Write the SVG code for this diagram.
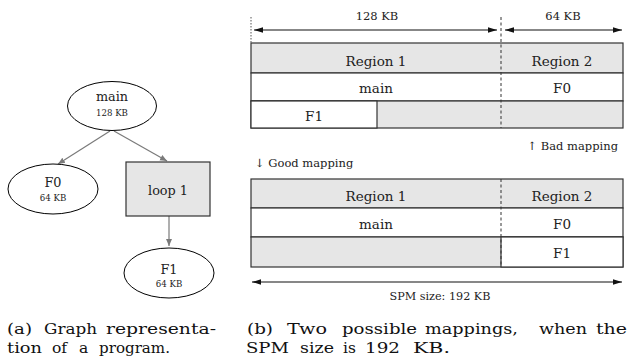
<svg xmlns="http://www.w3.org/2000/svg" width="627" height="364" viewBox="0 0 627 364">
<style>
.t{font-family:"DejaVu Serif","Liberation Serif",serif;fill:#222;text-anchor:middle}
.node{fill:#fff;stroke:#000;stroke-width:1}
.edge{stroke:#7a7a7a;stroke-width:1.2;fill:none}
.cell{stroke:#333;stroke-width:1.2}
.g{fill:#e6e6e6}
.w{fill:#fff}
.cap{font-family:"DejaVu Serif","Liberation Serif",serif;font-size:15.5px;fill:#111}
</style>
<defs>
<marker id="ga" markerWidth="8" markerHeight="8" refX="7" refY="4" orient="auto" markerUnits="userSpaceOnUse">
<path d="M0,1 L7,4 L0,7 Z" fill="#7a7a7a"/>
</marker>
<marker id="ba" markerWidth="10" markerHeight="8" refX="9" refY="4" orient="auto-start-reverse" markerUnits="userSpaceOnUse">
<path d="M0,1.2 L9,4 L0,6.8 Z" fill="#111"/>
</marker>
</defs>
<rect width="627" height="364" fill="#fff"/>
<g id="connectors">
<line class="edge" x1="110" y1="131" x2="58" y2="164" marker-end="url(#ga)"/>
<line class="edge" x1="114" y1="131" x2="167" y2="161" marker-end="url(#ga)"/>
<line class="edge" x1="169" y1="216" x2="169" y2="246" marker-end="url(#ga)"/>
</g>
<g id="main">
<ellipse class="node" cx="112" cy="106" rx="44.5" ry="24.5"/>
<text class="t" x="112" y="101" font-size="12.8">main</text>
<text class="t" x="112" y="116" font-size="8.6">128 KB</text>
</g>
<g id="F0">
<ellipse class="node" cx="53" cy="189" rx="45" ry="25"/>
<text class="t" x="53" y="187" font-size="12.8">F0</text>
<text class="t" x="53" y="201" font-size="8.6">64 KB</text>
</g>
<g id="loop1">
<rect x="126" y="162" width="84" height="54" fill="#e6e6e6" stroke="#333" stroke-width="1.2"/>
<text class="t" x="168" y="195" font-size="12.8">loop 1</text>
</g>
<g id="F1">
<ellipse class="node" cx="169" cy="273" rx="45" ry="25"/>
<text class="t" x="169" y="274" font-size="12.8">F1</text>
<text class="t" x="169" y="287" font-size="8.6">64 KB</text>
</g>
<g id="dimensions">
<line x1="251" y1="17" x2="251" y2="43" stroke="#555" stroke-width="1" stroke-dasharray="1.5,1.5"/>
<line x1="254" y1="30" x2="497" y2="30" stroke="#111" stroke-width="1.2" marker-start="url(#ba)" marker-end="url(#ba)"/>
<line x1="505" y1="30" x2="622" y2="30" stroke="#111" stroke-width="1.2" marker-start="url(#ba)" marker-end="url(#ba)"/>
<text class="t" x="377" y="20" font-size="11.5">128 KB</text>
<text class="t" x="563" y="20" font-size="11.5">64 KB</text>
</g>
<g id="bad-mapping">
<rect class="cell g" x="251" y="43" width="372" height="30"/>
<rect class="cell w" x="251" y="73" width="372" height="28"/>
<rect class="cell g" x="251" y="101" width="372" height="27"/>
<rect class="cell w" x="251" y="101" width="126" height="27"/>
<text class="t" x="376" y="66" font-size="13.5">Region 1</text>
<text class="t" x="562" y="66" font-size="13.5">Region 2</text>
<text class="t" x="376" y="93" font-size="13.5">main</text>
<text class="t" x="562" y="93" font-size="13.5">F0</text>
<text class="t" x="314" y="121" font-size="13.5">F1</text>
</g>
<line x1="501" y1="17" x2="501" y2="128" stroke="#333" stroke-width="1" stroke-dasharray="3,2.5"/>
<text class="t" x="618" y="150" font-size="11.5" style="text-anchor:end">↑ Bad mapping</text>
<text class="t" x="255" y="167" font-size="11.5" style="text-anchor:start">↓ Good mapping</text>
<g id="good-mapping">
<rect class="cell g" x="251" y="179" width="372" height="29"/>
<rect class="cell w" x="251" y="208" width="372" height="29"/>
<rect class="cell g" x="251" y="237" width="372" height="30"/>
<rect class="cell w" x="501" y="237" width="122" height="30"/>
<text class="t" x="376" y="201" font-size="13.5">Region 1</text>
<text class="t" x="562" y="201" font-size="13.5">Region 2</text>
<text class="t" x="376" y="229" font-size="13.5">main</text>
<text class="t" x="562" y="229" font-size="13.5">F0</text>
<text class="t" x="562" y="258" font-size="13.5">F1</text>
</g>
<line x1="501" y1="179" x2="501" y2="267" stroke="#333" stroke-width="1" stroke-dasharray="3,2.5"/>
<g id="spm-size">
<line x1="252" y1="282" x2="622" y2="282" stroke="#111" stroke-width="1.2" marker-start="url(#ba)" marker-end="url(#ba)"/>
<text class="t" x="440" y="300" font-size="11.2">SPM size: 192 KB</text>
</g>
<g id="captions">
<text class="cap" y="334"><tspan x="7" textLength="25" lengthAdjust="spacingAndGlyphs">(a)</tspan> <tspan x="44" textLength="53" lengthAdjust="spacingAndGlyphs">Graph</tspan> <tspan x="106" textLength="110" lengthAdjust="spacingAndGlyphs">representa-</tspan></text>
<text class="cap" y="352.5"><tspan x="7" textLength="35" lengthAdjust="spacingAndGlyphs">tion</tspan> <tspan x="52">of</tspan> <tspan x="79">a</tspan> <tspan x="99" textLength="71" lengthAdjust="spacingAndGlyphs">program.</tspan></text>
<text class="cap" y="334"><tspan x="247" textLength="26" lengthAdjust="spacingAndGlyphs">(b)</tspan> <tspan x="287" textLength="40" lengthAdjust="spacingAndGlyphs">Two</tspan> <tspan x="342" textLength="75" lengthAdjust="spacingAndGlyphs">possible</tspan> <tspan x="425" textLength="93" lengthAdjust="spacingAndGlyphs">mappings,</tspan> <tspan x="539" textLength="48" lengthAdjust="spacingAndGlyphs">when</tspan> <tspan x="596" textLength="31" lengthAdjust="spacingAndGlyphs">the</tspan></text>
<text class="cap" y="352.5"><tspan x="246" textLength="43" lengthAdjust="spacingAndGlyphs">SPM</tspan> <tspan x="300" textLength="34" lengthAdjust="spacingAndGlyphs">size</tspan> <tspan x="343">is</tspan> <tspan x="365" textLength="35" lengthAdjust="spacingAndGlyphs">192</tspan> <tspan x="413" textLength="37" lengthAdjust="spacingAndGlyphs">KB.</tspan></text>
</g>
</svg>
